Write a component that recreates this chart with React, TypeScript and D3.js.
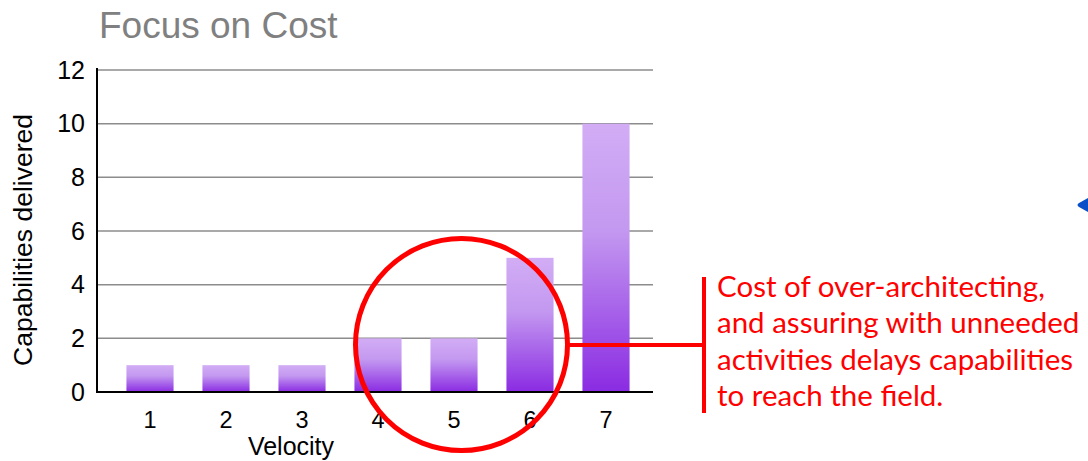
import React from "react";
import * as d3 from "d3";

const categories = ["1", "2", "3", "4", "5", "6", "7"];
const values = [1, 1, 1, 2, 2, 5, 10];
const yTicks = [0, 2, 4, 6, 8, 10, 12];
const noteLines = [
  "Cost of over-architecting,",
  "and assuring with unneeded",
  "activities delays capabilities",
  "to reach the field.",
];

export default function App() {
  const W = 1088, H = 461;
  const x = d3.scaleBand<string>().domain(categories).range([112, 644]).paddingInner(0.38).paddingOuter(0.19);
  const y = d3.scaleLinear().domain([0, 12]).range([392, 70]);
  const left = 97, right = 653;
  const font = "'Liberation Sans', Arial, sans-serif";
  return (
    <svg width={W} height={H} style={{ position: "absolute", left: 0, top: 0 }}>
      <defs>
        <linearGradient id="barGrad" x1="0" y1="0" x2="0" y2="1">
          <stop offset="0" stopColor="#d2adf5" />
          <stop offset="0.4" stopColor="#c398f0" />
          <stop offset="1" stopColor="#8a2be2" />
        </linearGradient>
      </defs>
      <rect x={0} y={0} width={W} height={H} fill="#fff" />
      <text x={99} y={38} fontFamily={font} fontSize={37} fill="#808080">Focus on Cost</text>
      {yTicks.map((t) => (
        <g key={t}>
          {t > 0 && <line x1={left} x2={right} y1={y(t)} y2={y(t)} stroke="#8c8c8c" strokeWidth={1.5} />}
          <text x={85} y={y(t)} dy="0.35em" textAnchor="end" fontFamily={font} fontSize={25} fill="#000">{t}</text>
        </g>
      ))}
      {categories.map((c, i) => (
        <rect key={c} x={x(c)} y={y(values[i])} width={x.bandwidth()} height={y(0) - y(values[i])} fill="url(#barGrad)" />
      ))}
      <line x1={left} x2={left} y1={68} y2={393} stroke="#000" strokeWidth={2} />
      <line x1={left - 1} x2={right} y1={392} y2={392} stroke="#000" strokeWidth={2} />
      {categories.map((c) => (
        <text key={c} x={(x(c) as number) + x.bandwidth() / 2} y={428} textAnchor="middle" fontFamily={font} fontSize={23.5} fill="#000">{c}</text>
      ))}
      <text x={291} y={455} textAnchor="middle" fontFamily={font} fontSize={25} fill="#000">Velocity</text>
      <text transform="translate(32,240) rotate(-90)" textAnchor="middle" fontFamily={font} fontSize={26.5} fill="#000">Capabilities delivered</text>
      <circle cx={461.5} cy={344.5} r={106} fill="none" stroke="#ff0000" strokeWidth={5} />
      <line x1={568} x2={704} y1={345} y2={345} stroke="#ff0000" strokeWidth={4} />
      <line x1={704} x2={704} y1={277} y2={413} stroke="#ff0000" strokeWidth={4} />
      {noteLines.map((l, i) => (
        <text key={i} x={717} y={297 + i * 36.3} fontFamily="Lato, 'Open Sans', sans-serif" fontSize={29.5} fill="#ff0000">{l}</text>
      ))}
      <path d="M1088,198 L1079,203 Q1076,205 1079,207 L1088,212 Z" fill="#0b4fc8" />
    </svg>
  );
}
